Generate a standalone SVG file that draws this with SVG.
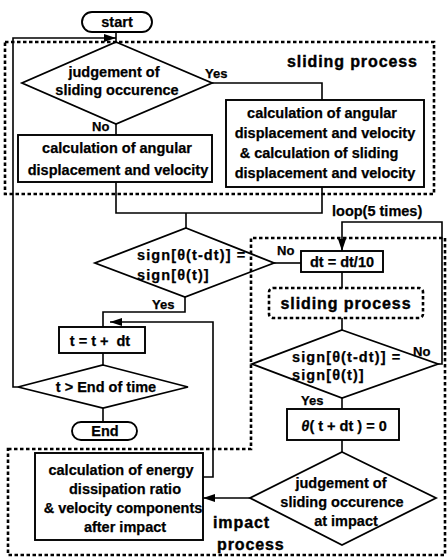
<svg xmlns="http://www.w3.org/2000/svg" width="448" height="558" viewBox="0 0 448 558">
<style>
.box{fill:#fff;stroke:#000;stroke-width:1.9}
.dia{fill:none;stroke:#000;stroke-width:1.8}
.reg{fill:none;stroke:#000;stroke-width:2.6;stroke-dasharray:3.5 2.5}
.ln{fill:none;stroke:#000;stroke-width:1.6}
text{font-family:"Liberation Sans",Arial,sans-serif;font-weight:bold;font-size:14.5px;fill:#000;stroke:#000;stroke-width:0.25}
.c{text-anchor:middle}
.lab{font-size:13px}
.big{font-size:16px;letter-spacing:0.9px;stroke-width:0.4}
.sg{letter-spacing:1.1px}
</style>
<defs>
<marker id="ah" viewBox="0 0 12 8" refX="12" refY="4" markerWidth="12" markerHeight="8" markerUnits="userSpaceOnUse" orient="auto">
<path d="M0,0 L12,4 L0,8 Z" fill="#000"/>
</marker>
</defs>
<g id="regions">
<rect class="reg" x="5" y="42" width="429" height="152"/>
<path class="reg" d="M8,449 H251 V238 H445 V555 H8 Z"/>
</g>
<g id="connectors">
<path class="ln" d="M116,32 V42"/>
<path class="ln" d="M18,387 H13 V38 H116" marker-end="url(#ah)"/>
<path class="ln" d="M212,83 H322 V100"/>
<path class="ln" d="M116,124 V135"/>
<path class="ln" d="M116,182 V213 H322 V187"/>
<path class="ln" d="M186,213 V228"/>
<path class="ln" d="M274,263 H301"/>
<path class="ln" d="M185,297 V312 H103 V327"/>
<path class="ln" d="M103,353 V365"/>
<path class="ln" d="M103,408 V422"/>
<path class="ln" d="M342,272 V288"/>
<path class="ln" d="M342,318 V330"/>
<path class="ln" d="M438,364 H442 V222 H342 V251" marker-end="url(#ah)"/>
<path class="ln" d="M342,398 V409"/>
<path class="ln" d="M342,440 V452"/>
<path class="ln" d="M250,498 H203" marker-end="url(#ah)"/>
<path class="ln" d="M203,477 H213 V322 H110" marker-end="url(#ah)"/>
</g>
<g id="start">
<rect class="box" x="82" y="12" width="70" height="20" rx="10"/>
<text class="c" x="117" y="27">start</text>
</g>
<g id="judge1">
<path class="dia" d="M116,42 L212,83 L116,124 L22,83 Z"/>
<text class="c" x="114" y="77">judgement of</text>
<text class="c" x="117" y="95">sliding occurence</text>
<text class="lab" x="205" y="78">Yes</text>
<text class="lab" x="92" y="131">No</text>
</g>
<g id="calcLeft">
<rect class="box" x="18" y="135" width="194" height="47"/>
<text class="c" x="117" y="153">calculation of angular</text>
<text class="c" x="118" y="175">displacement and velocity</text>
</g>
<g id="calcRight">
<rect class="box" x="226" y="100" width="198" height="87"/>
<text class="c" x="322" y="118">calculation of angular</text>
<text class="c" x="325" y="138">displacement and velocity</text>
<text class="c" x="319" y="158">&amp; calculation of sliding</text>
<text class="c" x="325" y="178">displacement and velocity</text>
</g>
<g id="slidingLabel">
<text class="big" x="287" y="67">sliding process</text>
</g>
<g id="sign1">
<path class="dia" d="M186,228 L274,263 L185,297 L95,263 Z"/>
<text class="sg" x="137" y="260">sign[θ(t-dt)] =</text>
<text class="sg" x="137" y="280">sign[θ(t)]</text>
<text class="lab" x="152" y="309">Yes</text>
<text class="lab" x="277" y="255">No</text>
</g>
<g id="tinc">
<rect class="box" x="59" y="327" width="86" height="26"/>
<text class="c" x="100" y="346" xml:space="preserve">t = t +  dt</text>
</g>
<g id="tend">
<path class="dia" d="M103,365 L188,387 L103,408 L18,387 Z"/>
<text class="c" x="106" y="392">t &gt; End of time</text>
</g>
<g id="end">
<rect class="box" x="72" y="422" width="65" height="18" rx="9"/>
<text class="c" x="105" y="436">End</text>
</g>
<g id="loopLabel">
<text x="332" y="216">loop(5 times)</text>
</g>
<g id="dtdiv">
<rect class="box" x="301" y="251" width="82" height="21"/>
<text class="c" x="342" y="267">dt = dt/10</text>
</g>
<g id="slidingSub">
<rect class="reg" x="269" y="288" width="154" height="30" rx="4"/>
<text class="c big" x="346" y="309">sliding process</text>
</g>
<g id="sign2">
<path class="dia" d="M342,330 L438,364 L342,398 L252,364 Z"/>
<text class="sg" x="292" y="362">sign[θ(t-dt)] =</text>
<text class="sg" x="292" y="380">sign[θ(t)]</text>
<text class="lab" x="301" y="405">Yes</text>
<text class="lab" x="413" y="356">No</text>
</g>
<g id="theta0">
<rect class="box" x="287" y="409" width="112" height="31"/>
<text class="c" x="344" y="431" xml:space="preserve"><tspan font-style="italic">θ</tspan>( t + dt ) = 0</text>
</g>
<g id="judge2">
<path class="dia" d="M342,452 L436,498 L342,545 L250,498 Z"/>
<text class="c" x="341" y="488">judgement of</text>
<text class="c" x="342" y="507">sliding occurence</text>
<text class="c" x="346" y="526">at impact</text>
</g>
<g id="energy">
<rect class="box" x="35" y="453" width="168" height="87"/>
<text class="c" x="121" y="475">calculation of energy</text>
<text class="c" x="125" y="494">dissipation ratio</text>
<text class="c" x="123" y="513">&amp; velocity components</text>
<text class="c" x="125" y="532">after impact</text>
</g>
<g id="impactLabel">
<text class="big" x="213" y="528" letter-spacing="1.8">impact</text>
<text class="big" x="217" y="550">process</text>
</g>
</svg>
